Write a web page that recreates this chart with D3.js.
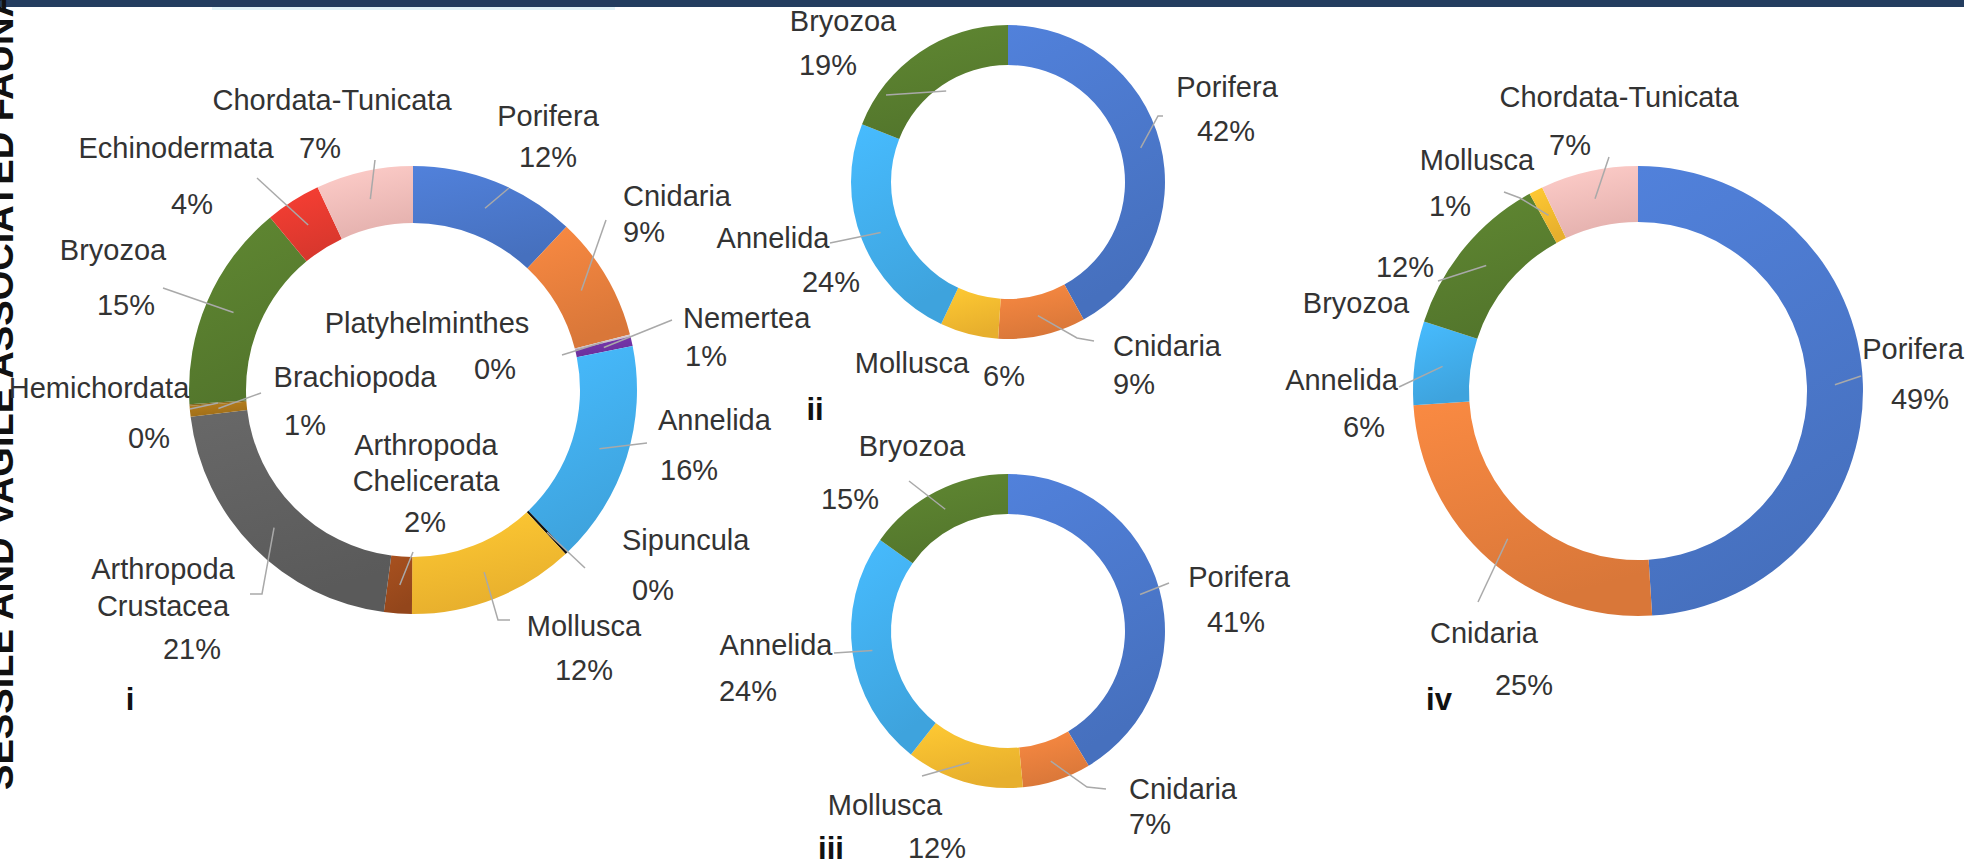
<!DOCTYPE html>
<html>
<head>
<meta charset="utf-8">
<script src="https://cdn.jsdelivr.net/npm/d3@7"></script>
<style>
  body { margin: 0; background: #fff; overflow: hidden; }
  text { font-family: "Liberation Sans", Arial, sans-serif; }
</style>
</head>
<body>
<script>
// taxa and their colours (shared by all four rings)
var taxa = ["Porifera", "Cnidaria", "Platyhelminthes", "Nemertea", "Annelida", "Sipuncula", "Mollusca",
    "Arthropoda Chelicerata", "Arthropoda Crustacea", "Brachiopoda", "Hemichordata", "Bryozoa",
    "Echinodermata", "Chordata-Tunicata"];
var taxaColors = ["#4a76c8", "#e57e3c", "#c9bfc6", "#7032a2", "#41ace9", "#111111", "#f4b92f",
    "#9b4a1c", "#5f5f5f", "#a8741a", "#8a6a20", "#587c2e", "#e43a30", "#f2bcb9"];

// ring i
var taxa1 = taxa;
var values1 = [12, 9, 0.15, 0.7, 16, 0.2, 12, 2, 21, 0.8, 0.1, 15, 4, 7];
// ring ii
var taxa2 = ["Porifera", "Cnidaria", "Mollusca", "Annelida", "Bryozoa"];
var values2 = [42, 9, 6, 24, 19];
// ring iii
var taxa3 = ["Porifera", "Cnidaria", "Mollusca", "Annelida", "Bryozoa"];
var values3 = [41, 7, 12, 24, 15];
// ring iv
var taxa4 = ["Porifera", "Cnidaria", "Annelida", "Bryozoa", "Mollusca", "Chordata-Tunicata"];
var values4 = [49, 25, 6, 12, 1, 7];

var panelNames = ["i", "ii", "iii", "iv"];
var sideTitle = "SESSILE AND VAGILE ASSOCIATED FAUNA";

function init() {
    var w = 1982;
    var h = 866;

    var svg = d3.select("body")
        .append("svg")
        .attr("width", w)
        .attr("height", h);

    var color = d3.scaleOrdinal().domain(taxa).range(taxaColors);

    // soft shading like the office chart
    var defs = svg.append("defs");
    taxa.forEach(function(t, i) {
        var g = defs.append("linearGradient")
            .attr("id", "grad" + i)
            .attr("x1", 0).attr("y1", 0).attr("x2", 0.3).attr("y2", 1);
        g.append("stop").attr("offset", "0%").attr("stop-color", d3.color(color(t)).brighter(0.25));
        g.append("stop").attr("offset", "100%").attr("stop-color", d3.color(color(t)).darker(0.15));
    });

    // top banner
    svg.append("rect").attr("x", 0).attr("y", 0).attr("width", 1964).attr("height", 7).attr("fill", "#243d5f");
    svg.append("rect").attr("x", 212).attr("y", 7).attr("width", 403).attr("height", 3).attr("fill", "#e4f5f9");

    // side title (cut by the left edge)
    svg.append("text")
        .attr("transform", "translate(13,790) rotate(-90)")
        .attr("font-size", 37)
        .attr("font-weight", "bold")
        .attr("fill", "#111")
        .attr("textLength", 800)
        .attr("lengthAdjust", "spacingAndGlyphs")
        .text(sideTitle);

    // label layout: name position(s), percent position, leader path after its start
    var panels = [
        { taxa: taxa1, values: values1, cx: 413, cy: 390, rOut: 224, rIn: 167, tag: [130, 699],
          labels: [
            { nx: 548, ny: [116], na: "middle", px: 548, py: 157, pa: "middle", lead: [[509, 188]] },
            { nx: 623, ny: [196], na: "start", px: 623, py: 232, pa: "start", lead: [[606, 220]] },
            { nx: 427, ny: [323], na: "middle", px: 495, py: 369, pa: "middle", lead: [[562, 355]] },
            { nx: 683, ny: [318], na: "start", px: 685, py: 356, pa: "start", lead: [[672, 320]] },
            { nx: 658, ny: [420], na: "start", px: 660, py: 470, pa: "start", lead: [[647, 443]] },
            { nx: 622, ny: [540], na: "start", px: 632, py: 590, pa: "start", lead: [[585, 568]] },
            { nx: 584, ny: [626], na: "middle", px: 584, py: 670, pa: "middle", lead: [[498, 620], [510, 620]] },
            { nx: 426, ny: [445, 481], na: "middle", px: 425, py: 522, pa: "middle", lead: [[413, 552]] },
            { nx: 163, ny: [569, 606], na: "middle", px: 192, py: 649, pa: "middle", lead: [[262, 594], [250, 594]] },
            { nx: 355, ny: [377], na: "middle", px: 305, py: 425, pa: "middle", lead: [[261, 393]] },
            { nx: 99, ny: [388], na: "middle", px: 149, py: 438, pa: "middle", lead: [[190, 409]] },
            { nx: 113, ny: [250], na: "middle", px: 126, py: 305, pa: "middle", lead: [[163, 288]] },
            { nx: 176, ny: [148], na: "middle", px: 192, py: 204, pa: "middle", lead: [[257, 178]] },
            { nx: 332, ny: [100], na: "middle", px: 320, py: 148, pa: "middle", lead: [[375, 160]] }
          ] },
        { taxa: taxa2, values: values2, cx: 1008, cy: 182, rOut: 157, rIn: 117, tag: [815, 409],
          labels: [
            { nx: 1227, ny: [87], na: "middle", px: 1226, py: 131, pa: "middle", lead: [[1158, 116], [1163, 116]] },
            { nx: 1113, ny: [346], na: "start", px: 1113, py: 384, pa: "start", lead: [[1077, 338], [1094, 341]] },
            { nx: 912, ny: [363], na: "middle", px: 1004, py: 376, pa: "middle", lead: null },
            { nx: 773, ny: [238], na: "middle", px: 831, py: 282, pa: "middle", lead: [[830, 243]] },
            { nx: 843, ny: [21], na: "middle", px: 828, py: 65, pa: "middle", lead: [[886, 95]], rs: 110 }
          ] },
        { taxa: taxa3, values: values3, cx: 1008, cy: 631, rOut: 157, rIn: 117, tag: [831, 848],
          labels: [
            { nx: 1239, ny: [577], na: "middle", px: 1236, py: 622, pa: "middle", lead: [[1169, 583]] },
            { nx: 1129, ny: [789], na: "start", px: 1129, py: 824, pa: "start", lead: [[1087, 787], [1106, 789]] },
            { nx: 885, ny: [805], na: "middle", px: 937, py: 848, pa: "middle", lead: [[922, 776]] },
            { nx: 776, ny: [645], na: "middle", px: 748, py: 691, pa: "middle", lead: [[834, 653]] },
            { nx: 912, ny: [446], na: "middle", px: 850, py: 499, pa: "middle", lead: [[909, 481]] }
          ] },
        { taxa: taxa4, values: values4, cx: 1638, cy: 391, rOut: 225, rIn: 169, tag: [1439, 699],
          labels: [
            { nx: 1913, ny: [349], na: "middle", px: 1920, py: 399, pa: "middle", lead: [[1861, 376]] },
            { nx: 1484, ny: [633], na: "middle", px: 1524, py: 685, pa: "middle", lead: [[1478, 602]] },
            { nx: 1398, ny: [380], na: "end", px: 1364, py: 427, pa: "middle", lead: [[1399, 387]] },
            { nx: 1356, ny: [303], na: "middle", px: 1405, py: 267, pa: "middle", lead: [[1438, 281]] },
            { nx: 1477, ny: [160], na: "middle", px: 1450, py: 206, pa: "middle", lead: [[1520, 198], [1504, 192]] },
            { nx: 1619, ny: [97], na: "middle", px: 1570, py: 145, pa: "middle", lead: [[1609, 157]] }
          ] }
    ];

    var pie = d3.pie().sort(null).value(function(d) { return d.value; });
    var fontSize = 29;

    panels.forEach(function(p, pi) {
        var data = p.taxa.map(function(t, i) { return { taxon: t, value: p.values[i] }; });
        var arcs = pie(data);
        var arc = d3.arc().innerRadius(p.rIn).outerRadius(p.rOut);
        var rMid = (p.rIn + p.rOut) / 2;

        var g = svg.append("g");

        g.selectAll("path.slice")
            .data(arcs)
            .enter()
            .append("path")
            .attr("class", "slice")
            .attr("transform", "translate(" + p.cx + "," + p.cy + ")")
            .attr("d", arc)
            .attr("fill", function(d) { return "url(#grad" + taxa.indexOf(d.data.taxon) + ")"; });

        // leader lines, from inside the band to the label
        arcs.forEach(function(d, i) {
            var lab = p.labels[i];
            if (!lab.lead) return;
            var a = (d.startAngle + d.endAngle) / 2;
            var r = lab.rs || rMid;
            var pts = [[p.cx + r * Math.sin(a), p.cy - r * Math.cos(a)]].concat(lab.lead);
            g.append("path")
                .attr("d", d3.line()(pts))
                .attr("fill", "none")
                .attr("stroke", "#a9a9a9")
                .attr("stroke-width", 1.5);
        });

        // labels
        arcs.forEach(function(d, i) {
            var lab = p.labels[i];
            var lines = d.data.taxon.indexOf("Arthropoda") === 0 ? d.data.taxon.split(" ") : [d.data.taxon];
            lines.forEach(function(line, li) {
                g.append("text")
                    .attr("x", lab.nx)
                    .attr("y", lab.ny[li] + 10)
                    .attr("text-anchor", lab.na)
                    .attr("font-size", fontSize)
                    .attr("fill", "#333")
                    .text(line);
            });
            g.append("text")
                .attr("x", lab.px)
                .attr("y", lab.py + 10)
                .attr("text-anchor", lab.pa)
                .attr("font-size", fontSize)
                .attr("fill", "#333")
                .text(Math.round(d.data.value) + "%");
        });

        // panel numeral
        g.append("text")
            .attr("x", p.tag[0])
            .attr("y", p.tag[1] + 11)
            .attr("text-anchor", "middle")
            .attr("font-size", 31)
            .attr("font-weight", "bold")
            .attr("fill", "#111")
            .text(panelNames[pi]);
    });
}

window.onload = init;
</script>
</body>
</html>
